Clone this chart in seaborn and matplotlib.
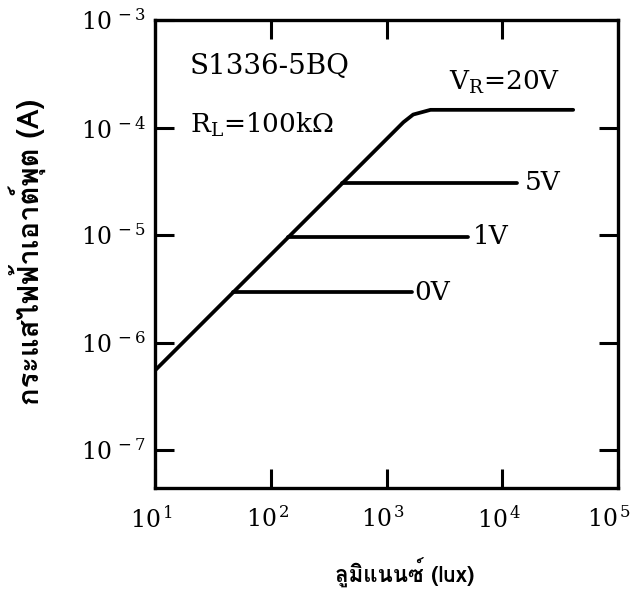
import math
import matplotlib
matplotlib.use("Agg")
import matplotlib.pyplot as plt
import matplotlib.ticker as mticker
import matplotlib.transforms as mtrans
from matplotlib import font_manager
from matplotlib.ft2font import FT2Font
import seaborn as sns
import pandas as pd

# ---------------- data ----------------
lux_20v = [10, 1400, 1700, 2400, 41000]
cur_20v = [5.5e-7, 1.12e-4, 1.32e-4, 1.46e-4, 1.46e-4]
lux_5v = [416, 13400]
cur_5v = [3.05e-5, 3.05e-5]
lux_1v = [142, 5030]
cur_1v = [9.6e-6, 9.6e-6]
lux_0v = [47, 1660]
cur_0v = [2.95e-6, 2.95e-6]
x_ticks = [10, 100, 1000, 10000, 100000]
y_ticks = [1e-7, 1e-6, 1e-5, 1e-4, 1e-3]
x_label = "ลูมิแนนซ์ (lux)"
y_label = "กระแสไฟฟ้าเอาต์พุต (A)"

sns.set_theme(style="ticks")

# find a font with Thai glyphs
thai_family = None
for f in font_manager.fontManager.ttflist:
    try:
        if 0x0E01 in FT2Font(f.fname).get_charmap():
            thai_family = f.name
            if "bold" in f.fname.lower():
                break
    except Exception:
        pass
thai_fams = ([thai_family] if thai_family else []) + ["DejaVu Sans"]

plt.rcParams["font.family"] = ["DejaVu Serif"]
plt.rcParams["mathtext.fontset"] = "dejavuserif"
for k in ["text.color", "axes.labelcolor", "xtick.color", "ytick.color",
          "xtick.labelcolor", "ytick.labelcolor"]:
    plt.rcParams[k] = "black"

fig = plt.figure(figsize=(6.33, 6.01), dpi=100)
ax = fig.add_axes([155 / 633, 1 - 488 / 601, 463 / 633, 468 / 601])

frames = []
for name, xs, ys in [("20V", lux_20v, cur_20v), ("5V", lux_5v, cur_5v),
                     ("1V", lux_1v, cur_1v), ("0V", lux_0v, cur_0v)]:
    frames.append(pd.DataFrame({"lux": xs, "cur": ys, "vr": name}))
df = pd.concat(frames, ignore_index=True)
sns.lineplot(data=df, x="lux", y="cur", units="vr", estimator=None, sort=False,
             color="black", lw=2.7, ax=ax, legend=False)

ax.set_xscale("log")
ax.set_yscale("log")
ax.set_xlim(10, 1e5)
ax.set_ylim(10 ** -7.353, 1e-3)
ax.set_xticks(x_ticks)
ax.set_yticks(y_ticks)
ax.xaxis.set_minor_locator(mticker.NullLocator())
ax.yaxis.set_minor_locator(mticker.NullLocator())


def fmt(v, pos):
    e = int(round(math.log10(v)))
    return r"$10^{\,%d}$" % e


ax.xaxis.set_major_formatter(mticker.FuncFormatter(fmt))
ax.yaxis.set_major_formatter(mticker.FuncFormatter(fmt))
ax.tick_params(which="major", direction="in", length=14, width=2.2,
               top=True, right=True, labelsize=17, color="black",
               labelcolor="black")
ax.tick_params(axis="x", pad=13)
ax.tick_params(axis="y", pad=7)
for s in ax.spines.values():
    s.set_linewidth(2.4)
    s.set_color("black")

ax.set_xlabel(x_label, family=thai_fams, fontsize=16, fontweight="bold")
ax.set_ylabel(y_label, family=thai_fams, fontsize=21, fontweight="bold")
ax.xaxis.set_label_coords((405 - 155) / 463, (488 - 558) / 468)
ax.yaxis.set_label_coords((46 - 155) / 463, (488 - 252) / 468)

fig.canvas.draw()
xlabels = ax.get_xticklabels()
for i, lab in enumerate(xlabels):
    dx = -9 if i == len(xlabels) - 1 else -3
    lab.set_transform(lab.get_transform() +
                      mtrans.ScaledTranslation(dx / 100, 0, fig.dpi_scale_trans))

tkw = dict(transform=ax.transAxes, color="black")
ax.text((190 - 155) / 463, (488 - 67) / 468, "S1336-5BQ", va="center", ha="left",
        fontsize=20, **tkw)
ax.text((190 - 155) / 463, (488 - 125) / 468, r"R$_\mathregular{L}$=100k$\Omega$",
        va="center", ha="left", fontsize=19, **tkw)
ax.text((449 - 155) / 463, (488 - 82) / 468, r"V$_\mathregular{R}$=20V",
        va="center", ha="left", fontsize=19, **tkw)
ax.text((525 - 155) / 463, (488 - 183) / 468, "5V", va="center", ha="left",
        fontsize=19, **tkw)
ax.text((473 - 155) / 463, (488 - 237) / 468, "1V", va="center", ha="left",
        fontsize=19, **tkw)
ax.text((414 - 155) / 463, (488 - 292) / 468, "0V", va="center", ha="left",
        fontsize=19, **tkw)

fig.savefig("out.png", dpi=100, facecolor="white")
